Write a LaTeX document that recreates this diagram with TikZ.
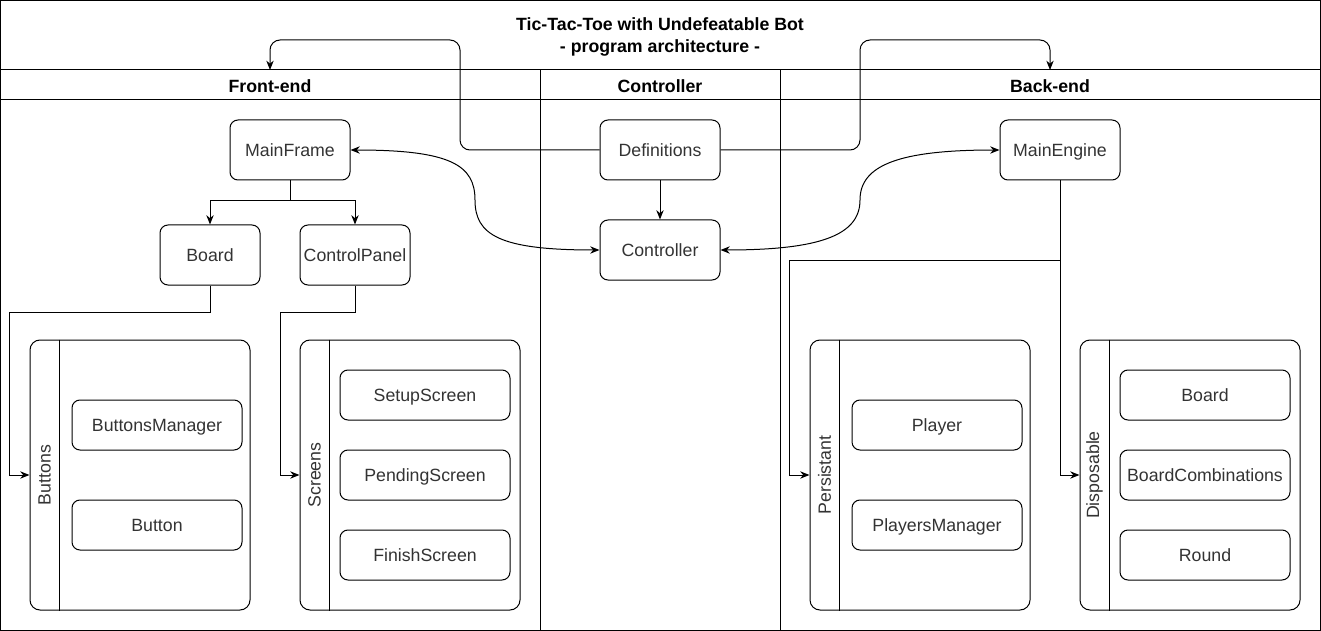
\documentclass[tikz,border=0pt]{standalone}
\usepackage{fontspec}
\setmainfont{Liberation Sans}
\usetikzlibrary{arrows.meta, calc}
\definecolor{labelgray}{RGB}{51,51,51}
\tikzset{
    classbox/.style={draw=black, rounded corners=6pt, text=labelgray, minimum width=90pt, minimum height=45pt, inner sep=1pt, text height=10pt, text depth=0.6pt},
    memberbox/.style={classbox, minimum width=127.5pt, minimum height=37.5pt},
    groupbox/.style={draw=black, rounded corners=7.5pt, minimum width=165pt, minimum height=202.5pt},
    lanetitle/.style={font=\bfseries\fontsize{13.3}{16}\selectfont},
    link/.style={-{Stealth[length=7pt,width=5.5pt]}},
    twolink/.style={{Stealth[length=7pt,width=5.5pt]}-{Stealth[length=7pt,width=5.5pt]}}
}

\begin{document}
\begin{tikzpicture}[x=0.75pt, y=-0.75pt, line width=0.75pt, font=\fontsize{13.3}{16}\selectfont]
    \useasboundingbox (0,0) rectangle (1321,631);
    % pool and lanes
    \draw (0.5,0.5) rectangle (1320.5,630.5);
    \draw (0.5,70) -- (1320.5,70);
    \draw (0.5,100) -- (1320.5,100);
    \draw (540,70) -- (540,630.5);
    \draw (780,70) -- (780,630.5);
    \node[lanetitle, align=center] (title) at (660,37) {Tic-Tac-Toe with Undefeatable Bot\\- program architecture -};
    \node[lanetitle] (frontHead) at (270,86) {Front-end};
    \node[lanetitle] (ctrlHead) at (660,86) {Controller};
    \node[lanetitle] (backHead) at (1050,86) {Back-end};
    \coordinate (frontTop) at (270,70);
    \coordinate (backTop) at (1050,70);

    % main classes
    \node[classbox] (mainFrame) at (290,150) {MainFrame};
    \node[classbox, minimum width=75pt] (boardFront) at (210,255) {Board};
    \node[classbox, minimum width=82.5pt] (controlPanel) at (355,255) {ControlPanel};
    \node[classbox] (definitions) at (660,150) {Definitions};
    \node[classbox] (controller) at (660,250) {Controller};
    \node[classbox] (mainEngine) at (1060,150) {MainEngine};

    % groups
    \foreach \name/\grouptext/\cx in {buttons/Buttons/140, screens/Screens/410, persistant/Persistant/920, disposable/Disposable/1190} {
        \node[groupbox] (\name) at (\cx,475) {};
        \draw ([xshift=22.5pt]\name.north west) -- ([xshift=22.5pt]\name.south west);
        \node[rotate=90, text=labelgray] (\name Text) at ([xshift=11.25pt]\name.west) {\grouptext};
    }
    \node[memberbox] (buttonsManager) at (157,425) {ButtonsManager};
    \node[memberbox] (button) at (157,525) {Button};
    \node[memberbox] (setupScreen) at (425,395) {SetupScreen};
    \node[memberbox] (pendingScreen) at (425,475) {PendingScreen};
    \node[memberbox] (finishScreen) at (425,555) {FinishScreen};
    \node[memberbox] (player) at (937,425) {Player};
    \node[memberbox] (playersManager) at (937,525) {PlayersManager};
    \node[memberbox] (boardBack) at (1205,395) {Board};
    \node[memberbox] (boardCombinations) at (1205,475) {BoardCombinations};
    \node[memberbox] (round) at (1205,555) {Round};

    % connectors
    \draw[link] (mainFrame.south) -- ++(0,20) -| (boardFront.north);
    \draw[link] (mainFrame.south) -- ++(0,20) -| (controlPanel.north);
    \draw[link] (boardFront.south) -- ++(0,27) -| ([xshift=-15pt]buttons.west) -- (buttons.west);
    \draw[link] (controlPanel.south) -- ++(0,27) -| ([xshift=-14.25pt]screens.west) -- (screens.west);
    \draw[link] (definitions) -- (controller);
    \draw[link, rounded corners=7.5pt] (definitions.west) -| (460,40) -| (frontTop);
    \draw[link, rounded corners=7.5pt] (definitions.east) -| (860,40) -| (backTop);
    \draw[link] (mainEngine.south) |- (disposable.west);
    \coordinate (engineSplit) at (1060,260);
    \draw[link] (engineSplit) -| ([xshift=-15pt]persistant.west) -- (persistant.west);
    \coordinate (frontBend) at (475,200);
    \coordinate (backBend) at (860,200);
    \draw[twolink] (mainFrame.east) .. controls +(100,0) and +(0,-35) .. (frontBend)
        .. controls +(0,35) and +(-100,0) .. (controller.west);
    \draw[twolink] (controller.east) .. controls +(100,0) and +(0,35) .. (backBend)
        .. controls +(0,-35) and +(-100,0) .. (mainEngine.west);
\end{tikzpicture}
\end{document}
